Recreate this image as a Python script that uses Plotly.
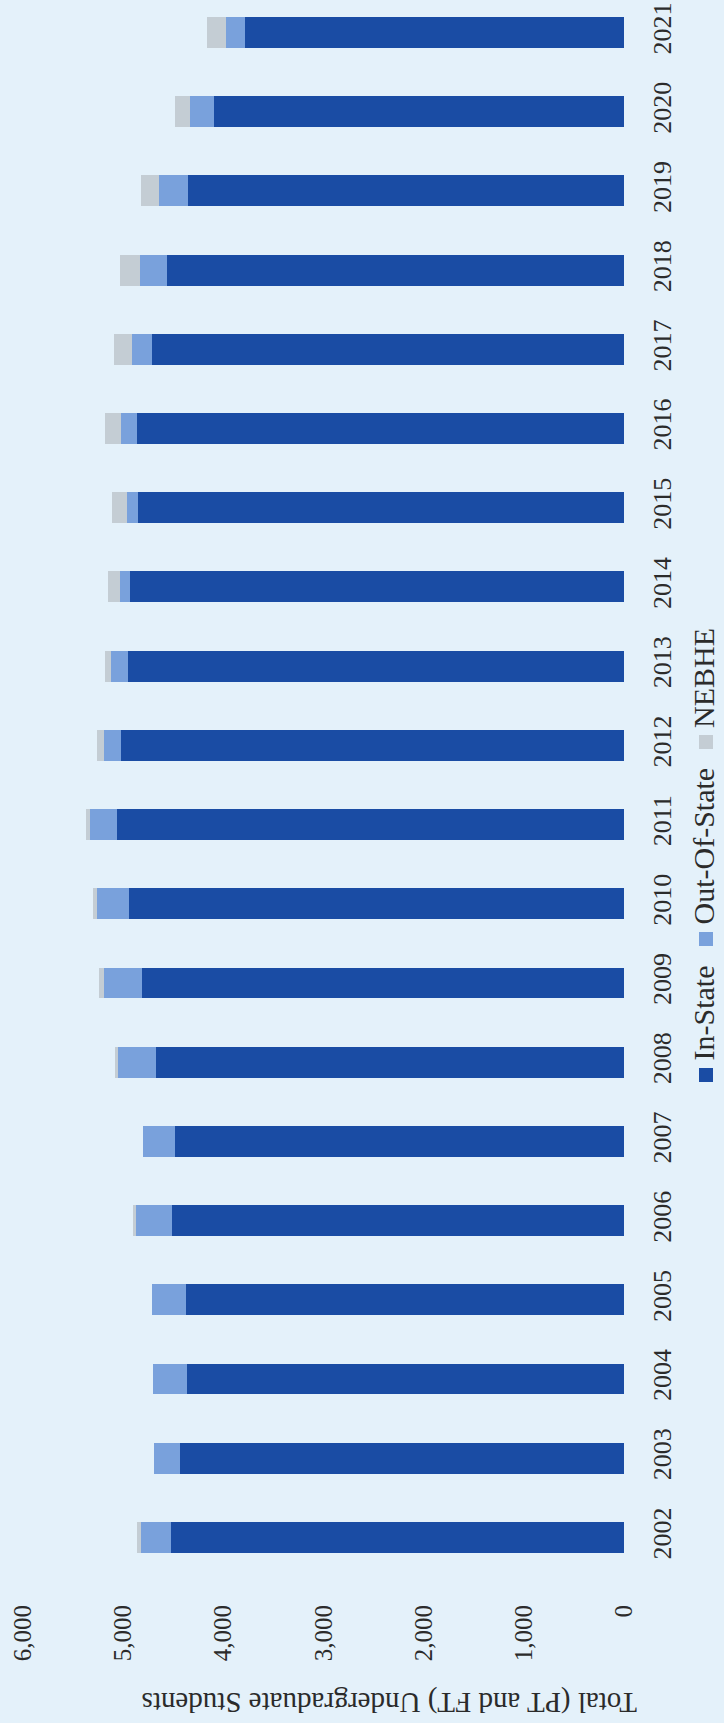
import plotly.graph_objects as go

# Undergraduate enrolment by residency, 2002-2021
years = [str(y) for y in range(2002, 2022)]
in_state = [4525, 4436, 4363, 4369, 4509, 4479, 4675, 4812, 4942, 5062,
            5018, 4952, 4935, 4852, 4862, 4708, 4562, 4349, 4096, 3783]
out_of_state = [297, 260, 340, 340, 360, 324, 377, 383, 320, 270,
                177, 166, 100, 110, 163, 204, 273, 294, 240, 186]
nebhe = [40, 0, 0, 0, 33, 0, 33, 47, 40, 35,
         67, 67, 117, 146, 160, 183, 193, 176, 150, 194]
value_ticks = [0, 1000, 2000, 3000, 4000, 5000, 6000]
series_names = ["In-State", "Out-Of-State", "NEBHE"]
axis_title = "Total (PT and FT) Undergraduate Students"

W, H = 724, 1723
L, R, T, B = 23, 100, 0, 146
PW, PH = W - L - R, H - T - B

BG = "#e4f1fa"
DARK = "#1a4ca4"
LIGHT = "#79a1dc"
GREY = "#c4cdd4"
TXT = "#2b2b2b"
FONT = "Liberation Serif"
colors = [DARK, LIGHT, GREY]


def px_x(px):
    return (px - L) / PW


def px_y(py):
    return (H - B - py) / PH


fig = go.Figure()
for name, vals, col in zip(series_names, [in_state, out_of_state, nebhe], colors):
    fig.add_trace(go.Bar(
        y=years, x=vals, orientation="h", name=name,
        marker=dict(color=col, line=dict(width=0)),
        showlegend=False,
    ))

fig.update_layout(
    barmode="stack", bargap=0.61,
    width=W, height=H,
    margin=dict(l=L, r=R, t=T, b=B, pad=0),
    paper_bgcolor=BG, plot_bgcolor=BG,
    font=dict(family=FONT, color=TXT),
)
fig.update_xaxes(
    range=[6000, 0], tickvals=value_ticks, tickformat=",",
    tickangle=-90, ticks="", showgrid=False, zeroline=False, showline=False,
    ticklabelstandoff=22, tickfont=dict(family=FONT, size=25, color=TXT),
)
fig.update_yaxes(
    type="category", categoryorder="array", categoryarray=years,
    range=[-0.5, 19.41], side="right", tickangle=-90, ticks="",
    showgrid=False, zeroline=False, showline=False,
    ticklabelstandoff=20, tickfont=dict(family=FONT, size=26, color=TXT),
)

# rotated value-axis title
fig.add_annotation(
    text=axis_title, textangle=180, showarrow=False,
    xref="paper", yref="paper", x=px_x(390), y=px_y(1703),
    xanchor="center", yanchor="middle", borderpad=0,
    font=dict(family=FONT, size=29, color=TXT),
)

# rotated legend: square swatch below each label, items stacked upward
legend_square_y = [1075, 939, 742]
legend_x = 703
sq = 7
for name, col, sy in zip(series_names, colors, legend_square_y):
    fig.add_shape(
        type="rect", xref="paper", yref="paper",
        x0=px_x(legend_x + 3 - sq), x1=px_x(legend_x + 3 + sq),
        y0=px_y(sy + sq), y1=px_y(sy - sq),
        fillcolor=col, line=dict(width=0), layer="above",
    )
    fig.add_annotation(
        text=name, textangle=-90, showarrow=False,
        xref="paper", yref="paper", x=px_x(legend_x), y=px_y(sy - sq - 6),
        xanchor="center", yanchor="bottom", borderpad=0,
        font=dict(family=FONT, size=30, color=TXT),
    )

fig.write_html("out.html")
